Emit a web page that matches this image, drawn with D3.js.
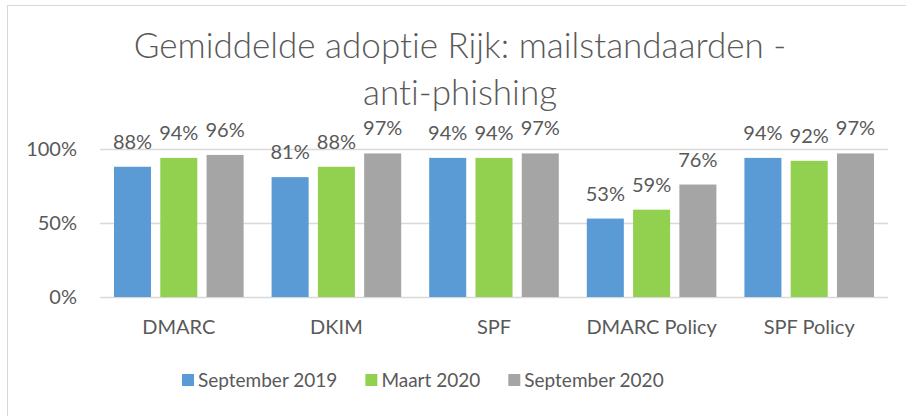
<!doctype html>
<html lang="nl">
<head>
  <meta charset="utf-8">
  <style>
    body { margin: 0; background: #fff; }
    text { font-family: Lato, "Open Sans", sans-serif; fill: #595959; font-variant-ligatures: none; }
  </style>
</head>
<body>
  <script src="https://cdnjs.cloudflare.com/ajax/libs/d3/7.8.5/d3.min.js"></script>
  <div id="chart"></div>
  <script>
    // data
    var categories = ["DMARC", "DKIM", "SPF", "DMARC Policy", "SPF Policy"];
    var seriesNames = ["September 2019", "Maart 2020", "September 2020"];
    var sep2019 = [0.88, 0.81, 0.94, 0.53, 0.94];
    var mrt2020 = [0.94, 0.88, 0.94, 0.59, 0.92];
    var sep2020 = [0.96, 0.97, 0.97, 0.76, 0.97];
    var yTicks = [0, 0.5, 1];
    var titleLines = ["Gemiddelde adoptie Rijk: mailstandaarden -", "anti-phishing"];

    var values = [sep2019, mrt2020, sep2020];
    var colors = ["#5B9BD5", "#92D050", "#A5A5A5"];

    var width = 906, height = 416;
    var plot = {left: 100, right: 888, top: 149, bottom: 297};

    var svg = d3.select("#chart").append("svg")
                .attr("width", width)
                .attr("height", height);

    // outer frame of the chart object
    svg.append("rect")
       .attr("x", 7.5).attr("y", 5.5)
       .attr("width", width).attr("height", height)
       .attr("fill", "none")
       .attr("stroke", "#d9d9d9");

    // title
    svg.append("g").selectAll("text").data(titleLines).enter()
       .append("text")
       .attr("x", 460)
       .attr("y", function(d, i) { return 58 + i * 47; })
       .attr("text-anchor", "middle")
       .style("font-size", "35px")
       .style("font-weight", 300)
       .text(function(d) { return d; });

    var x0 = d3.scaleBand().domain(categories).range([plot.left, plot.right]);
    var x1 = d3.scaleBand().domain(seriesNames)
               .range([14, x0.bandwidth() - 14])
               .paddingInner(0.2);
    var y = d3.scaleLinear().domain([0, 1]).range([plot.bottom, plot.top]);

    // gridlines + y labels
    var yAxis = d3.axisLeft(y)
                  .tickValues(yTicks)
                  .tickFormat(d3.format(".0%"))
                  .tickSize(-(plot.right - plot.left))
                  .tickPadding(23);
    var gy = svg.append("g")
                .attr("transform", "translate(" + plot.left + ",0)")
                .call(yAxis);
    gy.select(".domain").remove();
    gy.selectAll("line").attr("stroke", "#d9d9d9").attr("stroke-width", 1.5);
    gy.selectAll("text").style("font-size", "20px").attr("fill", "#595959");

    // category labels
    var xAxis = d3.axisBottom(x0).tickSize(0).tickPadding(23);
    var gx = svg.append("g")
                .attr("transform", "translate(0," + plot.bottom + ")")
                .call(xAxis);
    gx.select(".domain").remove();
    gx.selectAll("text").style("font-size", "20px").attr("fill", "#595959");

    // bars
    var groups = svg.append("g").selectAll("g").data(seriesNames).enter()
                    .append("g")
                    .attr("fill", function(d, i) { return colors[i]; });

    groups.each(function(s, si) {
      var g = d3.select(this);
      g.selectAll("rect").data(values[si]).enter()
       .append("rect")
       .attr("x", function(d, i) { return x0(categories[i]) + x1(s); })
       .attr("y", function(d) { return y(d); })
       .attr("width", x1.bandwidth())
       .attr("height", function(d) { return y(0) - y(d); });

      g.selectAll("text").data(values[si]).enter()
       .append("text")
       .attr("x", function(d, i) { return x0(categories[i]) + x1(s) + x1.bandwidth() / 2; })
       .attr("y", function(d) { return y(d) - 18; })
       .attr("text-anchor", "middle")
       .style("font-size", "20px")
       .text(function(d) { return Math.round(d * 100) + "%"; });
    });

    // legend
    var legend = svg.append("g").attr("transform", "translate(182,374)");
    var lx = 0;
    seriesNames.forEach(function(name, i) {
      var item = legend.append("g").attr("transform", "translate(" + lx + ",0)");
      item.append("rect")
          .attr("width", 12).attr("height", 12)
          .attr("fill", colors[i]);
      var t = item.append("text")
          .attr("x", 16).attr("y", 13)
          .style("font-size", "19px")
          .text(name);
      lx += 16 + t.node().getComputedTextLength() + 28;
    });
  </script>
</body>
</html>
